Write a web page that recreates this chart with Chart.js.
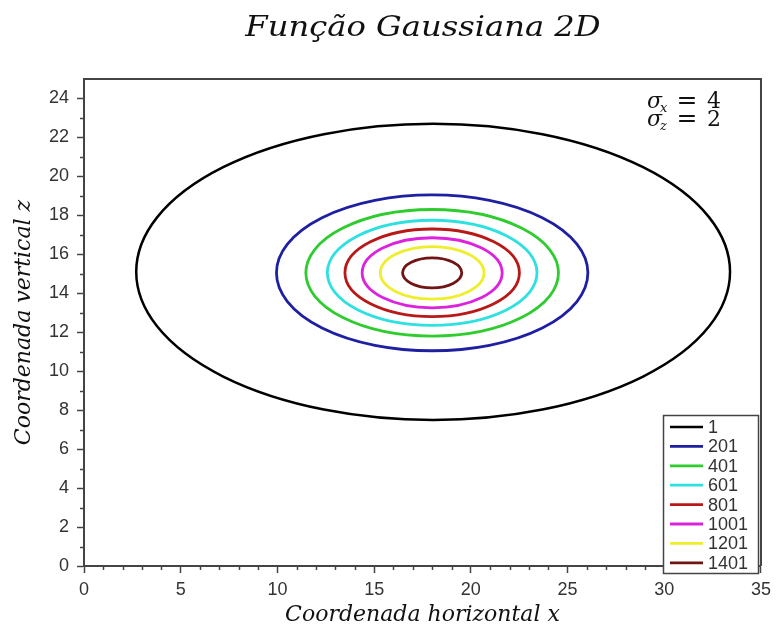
<!DOCTYPE html>
<html>
<head>
<meta charset="utf-8">
<script src="https://cdn.jsdelivr.net/npm/chart.js@4/dist/chart.umd.min.js"></script>
<style>
  html, body { margin: 0; padding: 0; background: #fff; }
  #wrap { width: 777px; height: 637px; }
</style>
</head>
<body>
<div id="wrap"><canvas id="c" width="777" height="637"></canvas></div>
<script>
// Contour levels of the 2D Gaussian (sigma_x = 4, sigma_z = 2)
const contourLevels = [1, 201, 401, 601, 801, 1001, 1201, 1401];
// Horizontal extent of each contour line
const xLeft  = [2.70, 9.95, 11.47, 12.58, 13.49, 14.38, 15.32, 16.47];
const xRight = [33.40, 26.05, 24.53, 23.42, 22.51, 21.62, 20.68, 19.53];
// Vertical extent of each contour line
const zBottom = [7.50, 11.05, 11.80, 12.35, 12.80, 13.25, 13.70, 14.28];
const zTop    = [22.70, 19.05, 18.30, 17.75, 17.30, 16.85, 16.40, 15.82];
const levelColors = ['#000000', '#1f1fa2', '#2fcc2f', '#2fe0e0', '#b81818', '#dd22dd', '#eeee2c', '#701414'];
const levelWidths = [2.5, 2.8, 2.8, 2.8, 2.8, 2.8, 2.8, 2.8];

const xTicks = [0, 5, 10, 15, 20, 25, 30, 35];
const zTicks = [0, 2, 4, 6, 8, 10, 12, 14, 16, 18, 20, 22, 24];

const titleText = 'Função Gaussiana 2D';
const xTitle = 'Coordenada horizontal x';
const zTitle = 'Coordenada vertical z';

const AXIS = '#444444';
const TEXT = '#333333';

// Each contour is carried by its four extreme points (left, right, bottom, top)
const datasets = contourLevels.map((lvl, i) => {
  const xc = (xLeft[i] + xRight[i]) / 2;
  const zc = (zBottom[i] + zTop[i]) / 2;
  return {
    label: String(lvl),
    data: [
      { x: xLeft[i], y: zc },
      { x: xRight[i], y: zc },
      { x: xc, y: zBottom[i] },
      { x: xc, y: zTop[i] }
    ],
    borderColor: levelColors[i],
    backgroundColor: levelColors[i],
    borderWidth: levelWidths[i],
    pointRadius: 0,
    showLine: false
  };
});

// Draws each contour as an ellipse through its extreme points (pixel positions from the scales)
const contourPlugin = {
  id: 'contours',
  afterDatasetsDraw(chart) {
    const { ctx, chartArea } = chart;
    ctx.save();
    ctx.beginPath();
    ctx.rect(chartArea.left, chartArea.top, chartArea.right - chartArea.left, chartArea.bottom - chartArea.top);
    ctx.clip();
    chart.data.datasets.forEach((ds, i) => {
      const pts = chart.getDatasetMeta(i).data;
      const l = pts[0].x, r = pts[1].x, b = pts[2].y, t = pts[3].y;
      ctx.beginPath();
      ctx.ellipse((l + r) / 2, (t + b) / 2, (r - l) / 2, (b - t) / 2, 0, 0, Math.PI * 2);
      ctx.strokeStyle = ds.borderColor;
      ctx.lineWidth = ds.borderWidth;
      ctx.stroke();
    });
    ctx.restore();
  }
};

// Frame, minor ticks, title, sigma note and the boxed legend
const decorPlugin = {
  id: 'decor',
  afterDraw(chart) {
    const { ctx, chartArea: a, scales } = chart;
    const xs = scales.x, ys = scales.y;
    ctx.save();

    // minor ticks
    ctx.strokeStyle = AXIS;
    ctx.lineWidth = 1.5;
    for (let v = 1; v < 35; v++) {
      if (v % 5 === 0) continue;
      const px = Math.round(xs.getPixelForValue(v)) + 0.5;
      ctx.beginPath(); ctx.moveTo(px, a.bottom); ctx.lineTo(px, a.bottom + 4); ctx.stroke();
    }
    for (let v = 1; v < 25; v += 2) {
      const py = Math.round(ys.getPixelForValue(v)) + 0.5;
      ctx.beginPath(); ctx.moveTo(a.left - 4, py); ctx.lineTo(a.left, py); ctx.stroke();
    }

    // top and right frame
    ctx.lineWidth = 2;
    ctx.beginPath();
    ctx.moveTo(a.left, a.top);
    ctx.lineTo(a.right, a.top);
    ctx.lineTo(a.right, a.bottom);
    ctx.stroke();

    // title (slightly widened serif italic)
    ctx.fillStyle = '#111';
    ctx.save();
    ctx.translate(423, 36);
    ctx.scale(1.15, 1);
    ctx.font = 'italic 28px "DejaVu Serif"';
    ctx.textAlign = 'center';
    ctx.textBaseline = 'alphabetic';
    ctx.fillText(titleText, 0, 0);
    ctx.restore();

    // sigma note
    const note = [['x', '4', 108], ['z', '2', 126]];
    note.forEach(([sub, val, y]) => {
      ctx.textAlign = 'left';
      ctx.font = 'italic 22px "DejaVu Serif"';
      ctx.fillText('σ', a.right - 114, y);
      ctx.font = 'italic 13px "DejaVu Serif"';
      ctx.fillText(sub, a.right - 101, y + 4);
      ctx.font = '25px "DejaVu Serif"';
      ctx.textAlign = 'center';
      ctx.fillText('=', a.right - 74, y);
      ctx.font = '22px "DejaVu Serif"';
      ctx.textAlign = 'left';
      ctx.fillText(val, a.right - 54, y);
    });

    // legend box
    const bx = 663, by = 415, bw = 95, bh = 158;
    ctx.fillStyle = '#fff';
    ctx.fillRect(bx, by, bw, bh);
    ctx.strokeStyle = AXIS;
    ctx.lineWidth = 1.5;
    ctx.strokeRect(bx + 0.5, by + 0.5, bw, bh);
    ctx.font = '18px "Liberation Sans"';
    ctx.textBaseline = 'middle';
    ctx.textAlign = 'left';
    chart.data.datasets.forEach((ds, i) => {
      const y = 427 + i * 19.4;
      ctx.strokeStyle = ds.borderColor;
      ctx.lineWidth = ds.borderWidth;
      ctx.beginPath(); ctx.moveTo(bx + 7, y); ctx.lineTo(bx + 40, y); ctx.stroke();
      ctx.fillStyle = TEXT;
      ctx.fillText(ds.label, bx + 45, y + 1);
    });
    ctx.restore();
  }
};

new Chart(document.getElementById('c'), {
  type: 'scatter',
  data: { datasets },
  options: {
    responsive: false,
    animation: false,
    devicePixelRatio: 1,
    layout: { padding: { left: 0, right: 13, top: 79, bottom: 0 } },
    plugins: { legend: { display: false }, tooltip: { enabled: false }, title: { display: false } },
    scales: {
      x: {
        type: 'linear', min: 0, max: 35,
        afterBuildTicks: s => { s.ticks = xTicks.map(v => ({ value: v })); },
        afterFit: s => { s.height = 71; },
        grid: { drawOnChartArea: false, tickLength: 7, tickColor: AXIS, tickWidth: 1.5 },
        border: { color: AXIS, width: 2 },
        ticks: { color: TEXT, font: { family: 'Liberation Sans', size: 18 }, padding: 6, maxRotation: 0, autoSkip: false },
        title: { display: true, text: xTitle, color: '#111', font: { family: 'DejaVu Serif', style: 'italic', size: 22 }, padding: { top: 0, bottom: 9 } }
      },
      y: {
        type: 'linear', min: 0, max: 25,
        afterBuildTicks: s => { s.ticks = zTicks.map(v => ({ value: v })); },
        afterFit: s => { s.width = 84; },
        grid: { drawOnChartArea: false, tickLength: 7, tickColor: AXIS, tickWidth: 1.5 },
        border: { color: AXIS, width: 2 },
        ticks: { color: TEXT, font: { family: 'Liberation Sans', size: 18 }, padding: 8, autoSkip: false },
        title: { display: true, text: zTitle, color: '#111', font: { family: 'DejaVu Serif', style: 'italic', size: 22 }, padding: { top: 11, bottom: 0 } }
      }
    }
  },
  plugins: [contourPlugin, decorPlugin]
});
</script>
</body>
</html>
